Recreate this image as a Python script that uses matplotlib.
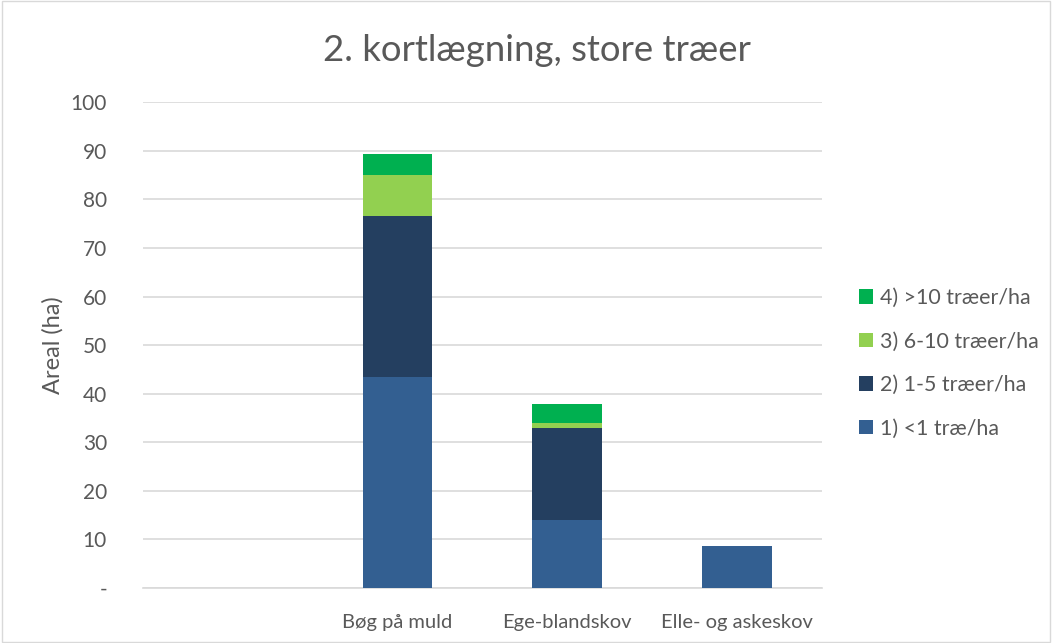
import matplotlib.pyplot as plt
import numpy as np

# Data
categories = ['', 'Bøg på muld', 'Ege-blandskov', 'Elle- og askeskov']
lt1 = [0, 43.5, 13.9, 8.6]      # 1) <1 træ/ha
t1_5 = [0, 33.0, 19.0, 0]       # 2) 1-5 træer/ha
t6_10 = [0, 8.6, 1.0, 0]        # 3) 6-10 træer/ha
gt10 = [0, 4.2, 4.0, 0]         # 4) >10 træer/ha
series_names = ['1) <1 træ/ha', '2) 1-5 træer/ha', '3) 6-10 træer/ha', '4) >10 træer/ha']
yticks = [0, 10, 20, 30, 40, 50, 60, 70, 80, 90, 100]
ytick_labels = ['-', '10', '20', '30', '40', '50', '60', '70', '80', '90', '100']

colors = ['#335F91', '#243F60', '#92D050', '#00B050']
txt = '#595959'

plt.rcParams['font.family'] = ['Lato', 'DejaVu Sans']

fig = plt.figure(figsize=(10.52, 6.43), dpi=100)
ax = fig.add_axes([0.136, 0.0855, 0.645, 0.7555])

x = np.arange(len(categories))
bottom = np.zeros(len(categories))
handles = []
for vals, col, name in zip([lt1, t1_5, t6_10, gt10], colors, series_names):
    h = ax.bar(x, vals, 0.41, bottom=bottom, color=col, label=name, zorder=3)
    handles.append(h)
    bottom += np.array(vals)

ax.set_xlim(-0.5, len(categories) - 0.5)
ax.set_ylim(0, 100)
ax.set_yticks(yticks)
ax.set_yticklabels(ytick_labels)
ax.set_xticks(x)
ax.set_xticklabels(categories)
ax.tick_params(axis='both', length=0, colors=txt)
ax.tick_params(axis='y', pad=26, labelsize=15)
ax.tick_params(axis='x', pad=19, labelsize=14.5)
ax.grid(axis='y', color='#D9D9D9', linewidth=1.2, zorder=0)
for s in ['top', 'right', 'left']:
    ax.spines[s].set_visible(False)
ax.spines['bottom'].set_color('#D9D9D9')
ax.spines['bottom'].set_linewidth(1.2)

ax.set_ylabel('Areal (ha)', color=txt, fontsize=17, labelpad=5)
fig.text(0.51, 0.922, '2. kortlægning, store træer', ha='center', va='center',
         fontsize=26.3, color=txt)

leg = fig.legend(handles[::-1], series_names[::-1], loc='center left',
                 bbox_to_anchor=(0.798, 0.435), frameon=False, fontsize=15.4,
                 labelspacing=1.1, handlelength=0.65, handleheight=0.65,
                 handletextpad=0.35)
for t in leg.get_texts():
    t.set_color(txt)

# outer border
fig.patches.append(plt.Rectangle((0.002, 0.002), 0.996, 0.996, transform=fig.transFigure,
                                 fill=False, edgecolor='#D9D9D9', linewidth=1))

fig.savefig('out.png', dpi=100)
